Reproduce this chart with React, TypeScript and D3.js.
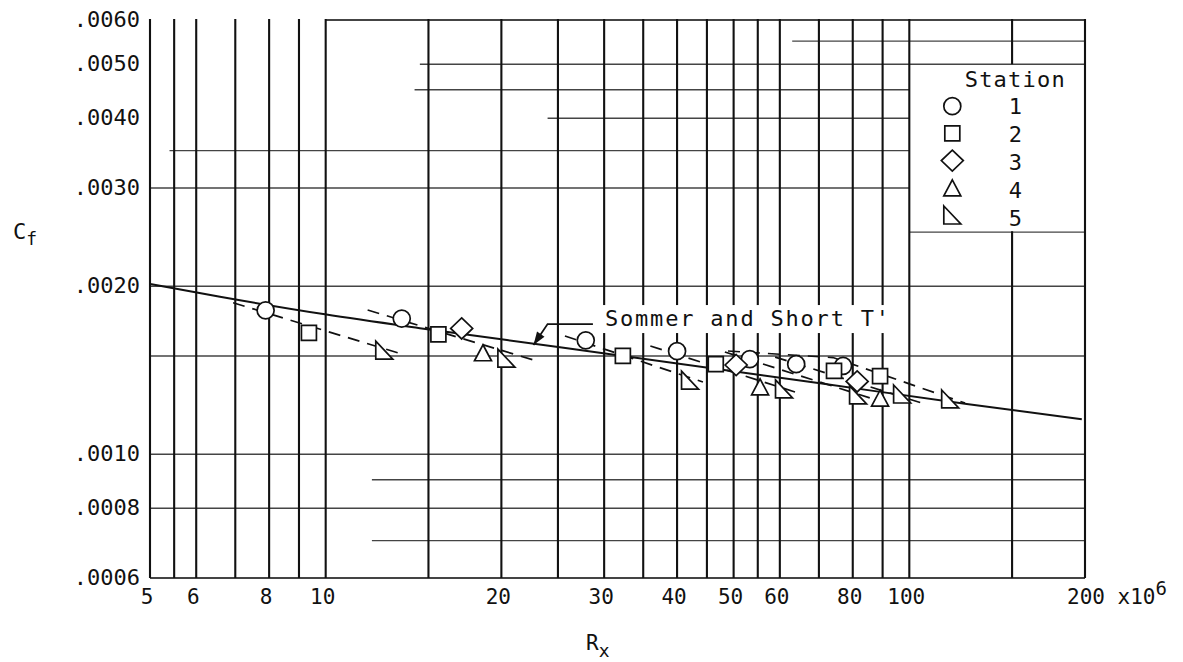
import React from 'react';
import * as d3 from 'd3';

const W = 1183;
const H = 662;
const FONT = '"DejaVu Sans Mono", monospace';
const INK = '#111';

// vertical grid lines (Rx, x10^6)
const gridRx = [5, 5.5, 6, 7, 8, 9, 10, 15, 20, 25, 30, 35, 40, 45, 50, 55, 60, 70, 80, 90, 100, 150, 200];
// horizontal grid lines: [Cf, from Rx, to Rx]
const gridCf: [number, number, number][] = [
  [0.006, 10, 200],
  [0.0055, 63, 200],
  [0.005, 14.5, 200],
  [0.0045, 14.2, 100],
  [0.004, 24, 100],
  [0.0035, 5.4, 100],
  [0.003, 5, 100],
  [0.0025, 100, 200],
  [0.002, 5, 200],
  [0.0015, 5, 200],
  [0.001, 5, 200],
  [0.0009, 12, 200],
  [0.0008, 5, 200],
  [0.0007, 12, 200],
  [0.0006, 5, 200],
];
// legend panel sits inside the grid
const legendRx = [100, 200];
const legendCf = [0.0025, 0.005];

const xTicks = [5, 6, 8, 10, 20, 30, 40, 50, 60, 80, 100];
const yTicks = [0.006, 0.005, 0.004, 0.003, 0.002, 0.001, 0.0008, 0.0006];
const yTickLabels = ['.0060', '.0050', '.0040', '.0030', '.0020', '.0010', '.0008', '.0006'];

// measured data, by station
const st1Rx = [7.89, 13.5, 27.9, 40.0, 53.3, 64.0, 77.0];
const st1Cf = [0.00181, 0.00175, 0.0016, 0.00153, 0.00148, 0.00145, 0.00144];
const st2Rx = [9.36, 15.6, 32.3, 46.6, 74.3, 89.1];
const st2Cf = [0.00165, 0.00164, 0.0015, 0.00145, 0.00141, 0.00138];
const st3Rx = [17.1, 50.5, 81.4];
const st3Cf = [0.00168, 0.001445, 0.00135];
const st4Rx = [18.6, 55.5, 89.1];
const st4Cf = [0.00152, 0.00132, 0.00126];
const st5Rx = [12.6, 20.4, 42.1, 61.0, 81.7, 97.2, 117.5];
const st5Cf = [0.001537, 0.001487, 0.001358, 0.001309, 0.001277, 0.001282, 0.001256];

// Sommer and Short T' curve
const sommerRx = [5, 6.59, 9.97, 14.5, 25.2, 70.3, 125.4, 197.5];
const sommerCf = [0.002019, 0.001915, 0.001781, 0.001682, 0.001555, 0.00134, 0.00123, 0.001155];

// faired dashed lines through each run
const runA = [[6.94, 0.001868], [13.5, 0.001512]];
const runB = [[11.8, 0.001813], [23.0, 0.001469]];
const runC = [[25.7, 0.001629], [44.3, 0.001347]];
const runD = [[36.0, 0.001563], [63.7, 0.001293]];
const runE = [[58.9, 0.001493], [106.4, 0.00123]];
const runF = [[48.9, 0.001531], [74.0, 0.00149], [124.6, 0.001235]];
const runG = [[48.3, 0.001525], [85.7, 0.001261]];

// label + leader arrow
const noteText = "Sommer and Short T'";
const noteAt = [30.1, 0.001697];
const noteArrow = [[28.7, 0.001711], [24.0, 0.001711], [22.7, 0.00157]];

const shapes = ['circle', 'square', 'diamond', 'triangle', 'rtri'];

const markerPath = (shape: string) => {
  switch (shape) {
    case 'circle':
      return d3.arc()({ innerRadius: 0, outerRadius: 8.5, startAngle: 0, endAngle: Math.PI * 2 }) as string;
    case 'square':
      return 'M-7.5,-7.5H7.5V7.5H-7.5Z';
    case 'diamond':
      return 'M0,-10.5L11,0L0,10.5L-11,0Z';
    case 'triangle':
      return 'M0,-8L8.5,8H-8.5Z';
    default:
      return 'M-8.5,-9L8.5,9H-8.5Z';
  }
};

const App = () => {
  const x = d3.scaleLog().domain([5, 200]).range([150, 1085]);
  const y = d3.scaleLog().domain([0.0006, 0.006]).range([578, 20]);

  const stations = [
    { rx: st1Rx, cf: st1Cf },
    { rx: st2Rx, cf: st2Cf },
    { rx: st3Rx, cf: st3Cf },
    { rx: st4Rx, cf: st4Cf },
    { rx: st5Rx, cf: st5Cf },
  ];

  const line = d3.line<number[]>().x(d => x(d[0])).y(d => y(d[1]));
  const curve = d3.line<number[]>().x(d => x(d[0])).y(d => y(d[1])).curve(d3.curveMonotoneX);
  const sommer = sommerRx.map((r, i) => [r, sommerCf[i]]);
  const runs = [runA, runB, runC, runD, runE, runF, runG];

  // arrow head
  const a1 = noteArrow[noteArrow.length - 2];
  const a2 = noteArrow[noteArrow.length - 1];
  const px1 = x(a1[0]), py1 = y(a1[1]), px2 = x(a2[0]), py2 = y(a2[1]);
  const len = Math.hypot(px2 - px1, py2 - py1);
  const ux = (px2 - px1) / len, uy = (py2 - py1) / len;
  const bx = px2 - ux * 13, by = py2 - uy * 13;
  const head = `M${px2},${py2}L${bx - uy * 4.5},${by + ux * 4.5}L${bx + uy * 4.5},${by - ux * 4.5}Z`;

  const noteX = x(noteAt[0]);
  const noteY = y(noteAt[1]);
  const noteW = noteText.length * (22 * 0.602 + 1.8);

  const lgX = x(legendRx[0]);
  const lgY = y(legendCf[1]);

  return (
    <svg width={W} height={H} style={{ position: 'absolute', left: 0, top: 0, background: '#fff' }}
      fontFamily={FONT}>
      {/* horizontal grid */}
      {gridCf.map(([c, r0, r1], i) => (
        <line key={'h' + i} x1={x(r0)} x2={x(r1)} y1={y(c)} y2={y(c)}
          stroke="#444" strokeWidth={c === 0.006 || c === 0.0006 ? 2 : 1.4} />
      ))}
      {/* vertical grid */}
      {gridRx.map((r, i) => {
        const inLegend = r > legendRx[0] && r < legendRx[1];
        const segs = inLegend
          ? [[0.006, legendCf[1]], [legendCf[0], 0.0006]]
          : [[0.006, 0.0006]];
        return segs.map((s, j) => (
          <line key={'v' + i + '-' + j} x1={x(r)} x2={x(r)} y1={y(s[0]) - 1} y2={y(s[1])}
            stroke={INK} strokeWidth={2.1} />
        ));
      })}

      {/* blank patch behind the curve label */}
      <rect x={noteX - 6} y={noteY - 21} width={noteW + 8} height={28} fill="#fff" />

      {/* dashed fairings */}
      {runs.map((run, i) => (
        <path key={'run' + i} d={line(run) as string} fill="none" stroke={INK}
          strokeWidth={1.7} strokeDasharray="12,8" />
      ))}

      {/* Sommer and Short T' */}
      <path d={curve(sommer) as string} fill="none" stroke={INK} strokeWidth={2} />
      <path d={line(noteArrow) as string} fill="none" stroke={INK} strokeWidth={1.8} />
      <path d={head} fill={INK} />
      <text x={noteX} y={noteY} fontSize={22} letterSpacing={1.8} fill={INK}>
        {noteText}
      </text>

      {/* data points */}
      {stations.map((s, si) =>
        s.rx.map((r, i) => (
          <path key={'p' + si + '-' + i} d={markerPath(shapes[si])}
            transform={`translate(${x(r)},${y(s.cf[i])})`}
            fill="#fff" stroke={INK} strokeWidth={1.7} />
        ))
      )}

      {/* legend */}
      <text x={lgX + 106} y={lgY + 23} fontSize={22} letterSpacing={1.2} textAnchor="middle" fill={INK}>
        Station
      </text>
      {shapes.map((sh, i) => (
        <g key={'lg' + i}>
          <path d={markerPath(sh)} transform={`translate(${lgX + 43},${lgY + 42 + i * 27.2})`}
            fill="#fff" stroke={INK} strokeWidth={1.7} />
          <text x={lgX + 106} y={lgY + 50 + i * 28} fontSize={22} textAnchor="middle" fill={INK}>
            {i + 1}
          </text>
        </g>
      ))}

      {/* y tick labels */}
      {yTicks.map((t, i) => (
        <text key={'yt' + i} x={140} y={y(t) + 7} fontSize={22} textAnchor="end" fill={INK}>
          {yTickLabels[i]}
        </text>
      ))}
      {/* x tick labels */}
      {xTicks.map((t, i) => (
        <text key={'xt' + i} x={x(t) - 3} y={604} fontSize={21} textAnchor="middle" fill={INK}>
          {t}
        </text>
      ))}
      <text x={x(200) - 18} y={604} fontSize={21} fill={INK}>
        200 x10<tspan dy={-9} fontSize={19}>6</tspan>
      </text>

      {/* axis titles */}
      <text x={13} y={239} fontSize={22} fill={INK}>
        C<tspan dy={6} fontSize={18}>f</tspan>
      </text>
      <text x={586} y={650} fontSize={21} fill={INK}>
        R<tspan dy={7} fontSize={18}>x</tspan>
      </text>
    </svg>
  );
};

export default App;
